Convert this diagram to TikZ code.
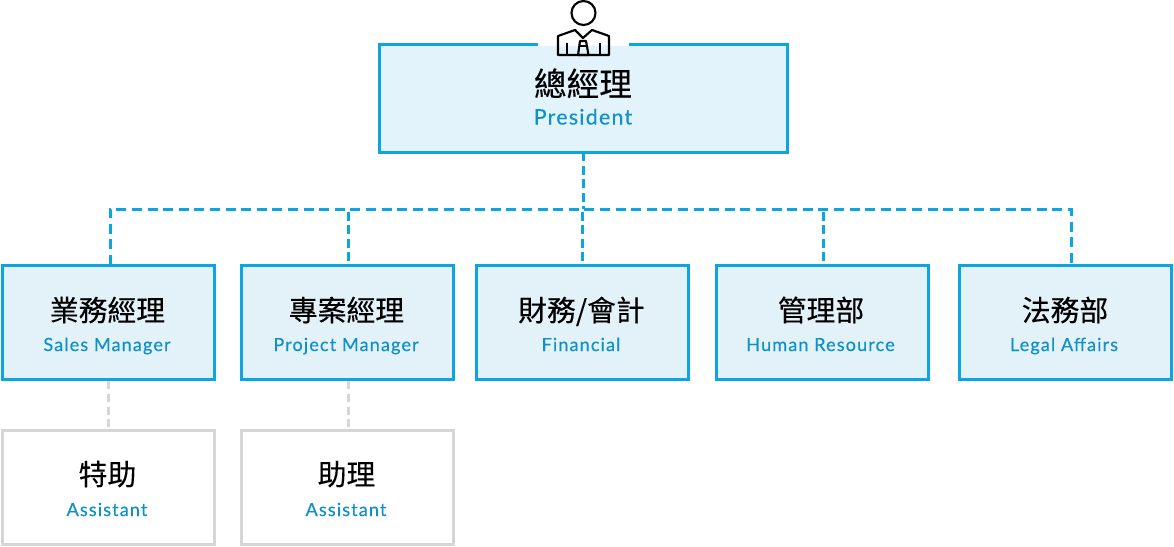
\documentclass[tikz,border=0pt]{standalone}
\usepackage{fontspec}
\setmainfont{Lato}
\newfontfamily\cjk[FakeBold=0.25]{Noto Sans CJK TC}
\newfontfamily\lat[LetterSpace=6,FakeBold=0.2]{Lato}
\definecolor{bluel}{HTML}{0BA6E2}
\definecolor{fillt}{HTML}{E3F3FB}
\definecolor{fillr}{HTML}{E3F1F8}
\definecolor{txtb}{HTML}{0E90C8}
\definecolor{grayl}{HTML}{D6D6D6}
\tikzset{
  px/.style={x=0.75pt,y=-0.75pt},
  bx/.style={draw=bluel,line width=2.25pt,inner sep=0pt,outer sep=0pt,anchor=north west},
  topbox/.style={bx,fill=fillt,minimum width=306pt,minimum height=81pt},
  rowbox/.style={bx,fill=fillr,minimum width=159.4pt,minimum height=85.5pt},
  graybox/.style={bx,draw=grayl,fill=white,minimum width=159.4pt,minimum height=85.5pt},
  cnbig/.style={anchor=base,inner sep=0pt,font=\cjk\fontsize{24.5}{24.5}\selectfont},
  cnrow/.style={anchor=base,inner sep=0pt,font=\cjk\fontsize{21.6}{21.6}\selectfont},
  enbig/.style={anchor=base,inner sep=0pt,text=txtb,font=\lat\fontsize{16}{16}\selectfont},
  enrow/.style={anchor=base,inner sep=0pt,text=txtb,font=\lat\fontsize{13.6}{13.6}\selectfont},
  bus/.style={draw=bluel,line width=2.25pt,dash pattern=on 7.5pt off 4.2pt},
  drop/.style={draw=bluel,line width=2.25pt,dash pattern=on 6.5pt off 3.6pt},
  graydrop/.style={draw=grayl,line width=2.25pt,dash pattern=on 6pt off 3.6pt},
  icon/.style={draw=black,line width=1.6pt,line join=round}
}
\begin{document}
\begin{tikzpicture}[px]
\useasboundingbox (0,0) rectangle (1174,546);
% boxes
\node[topbox] (pres) at (379.5,44.5) {};
\node[rowbox] (sales) at (2,265) {};
\node[rowbox] (proj) at (241,265) {};
\node[rowbox] (fin) at (476,265) {};
\node[rowbox] (hr) at (716,265) {};
\node[rowbox] (legal) at (959,265) {};
\node[graybox] (asst1) at (2,430) {};
\node[graybox] (asst2) at (241,430) {};
% connectors
\coordinate (busL) at (110,209);
\coordinate (busR) at (1071,209);
\coordinate (busP) at (348,212);
\coordinate (busC) at (583.3,209);
\coordinate (busF) at (582.3,212);
\coordinate (busH) at (823,212);
\draw[bus] (busL |- sales.north) -- (busL) -- (busR) -- (busR |- legal.north);
\draw[drop] (busC |- pres.south) -- (busC);
\draw[drop] (busF) -- (busF |- fin.north);
\draw[drop] (busP) -- (busP |- proj.north);
\draw[drop] (busH) -- (busH |- hr.north);
\coordinate (g1) at (108.5,381);
\coordinate (g2) at (348,381);
\draw[graydrop] (g1) -- (g1 |- asst1.north);
\draw[graydrop] (g2) -- (g2 |- asst2.north);
% icon gap
\fill[white] (538,41) rectangle (629,45.7);
% icon
\draw[icon,fill=white] (583.5,13) circle (12);
\draw[icon] (558,55) -- (558,36) -- (575,30) -- (583,38) -- (592,30) -- (609,36) -- (609,55) -- cycle;
\draw[icon] (567,43) -- (567,55);
\draw[icon] (600,43) -- (600,55);
\draw[icon] (580,41) -- (586,41) -- (588.5,55) -- (578,55) -- cycle;
\draw[icon] (580,46) -- (586,46);
% labels
\node[cnbig] (t0) at (583,96) {總經理};
\node[enbig] (e0) at (583,124.5) {President};
\node[cnrow] (t1) at (107.5,321) {業務經理};
\node[enrow] (e1) at (107,351) {Sales Manager};
\node[cnrow] (t2) at (346.5,321) {專案經理};
\node[enrow] (e2) at (346,351) {Project Manager};
\node[cnrow] (t3) at (581.5,321) {財務/會計};
\node[enrow] (e3) at (581,351) {Financial};
\node[cnrow] (t4) at (821,321) {管理部};
\node[enrow] (e4) at (820.5,351) {Human Resource};
\node[cnrow] (t5) at (1065,321) {法務部};
\node[enrow] (e5) at (1064,351) {Legal Affairs};
\node[cnrow] (t6) at (107.5,485) {特助};
\node[enrow] (e6) at (107,516) {Assistant};
\node[cnrow] (t7) at (346.5,485) {助理};
\node[enrow] (e7) at (346,516) {Assistant};
\end{tikzpicture}
\end{document}
